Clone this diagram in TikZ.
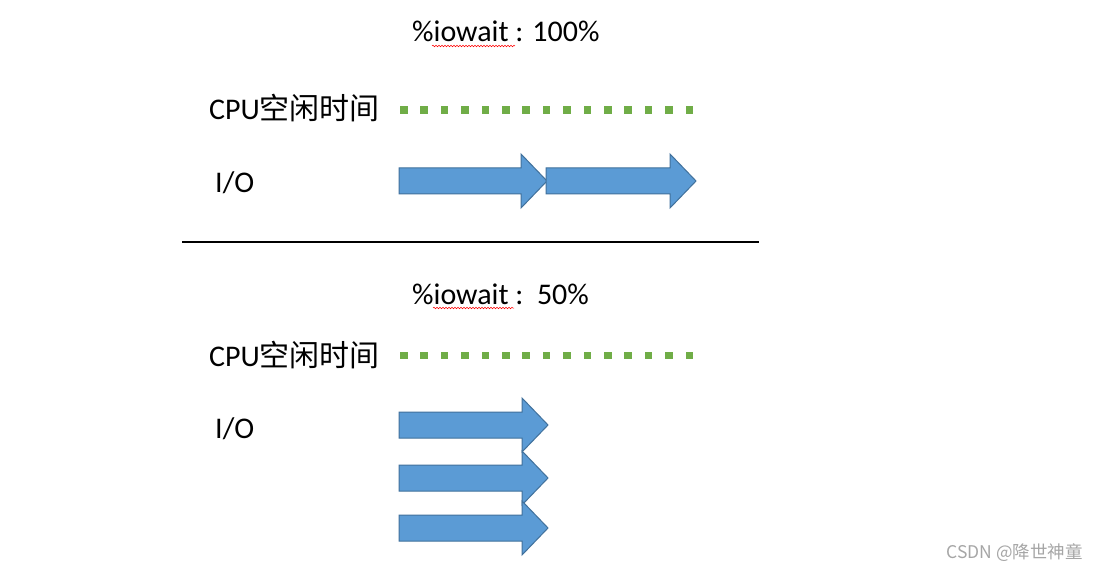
\documentclass[tikz,border=0pt]{standalone}
\usepackage{fontspec}
\setmainfont{Carlito}
\newfontfamily\cjk{Noto Sans CJK SC}
\usetikzlibrary{decorations.pathmorphing}

\definecolor{ioblue}{HTML}{5B9BD5}
\definecolor{ioedge}{HTML}{41719C}
\definecolor{idlegreen}{HTML}{70AD47}

\tikzset{
  label/.style={inner sep=0pt, anchor=base west, font=\fontsize{30}{32}\selectfont},
  ioarrow/.style={fill=ioblue, draw=ioedge, line width=1pt},
  idledot/.style={fill=idlegreen},
  spell/.style={red, line width=0.5pt, decorate, decoration={snake, amplitude=0.8pt, segment length=3pt}}
}

% arrow with tail at (#1,#2), length #3
\newcommand{\ioarrow}[3]{
  \filldraw[ioarrow] (#1,#2-13) -- (#1+#3-26,#2-13) -- (#1+#3-26,#2-27) -- (#1+#3,#2)
    -- (#1+#3-26,#2+27) -- (#1+#3-26,#2+13) -- (#1,#2+13) -- cycle;
}

\begin{document}
\begin{tikzpicture}[x=1pt,y=-1pt]
  \useasboundingbox[fill=white] (0,0) rectangle (1098,572);

  % 100% case
  \node[label] (t1) at (412,42) {\%iowait : 100\%};
  \draw[spell] (432,46) -- (515,46);

  \node[label] (cpu1) at (209,120) {CPU{\cjk 空闲时间}};
  \foreach \i in {0,...,14}
    \fill[idledot] (400+\i*20.4,106.5) rectangle ++(7.5,7.5);

  \node[label] (io1) at (215,193) {I/O};
  \ioarrow{399}{181}{148}
  \ioarrow{546}{181}{150}

  % separator
  \coordinate (sepl) at (182,242);
  \coordinate (sepr) at (759,242);
  \draw[line width=2.2pt] (sepl) -- (sepr);

  % 50% case
  \node[label] (t2) at (412,305) {\%iowait :\ \ 50\%};
  \draw[spell] (433,308) -- (514,308);

  \node[label] (cpu2) at (209,366) {CPU{\cjk 空闲时间}};
  \foreach \i in {0,...,14}
    \fill[idledot] (400+\i*20.4,351.5) rectangle ++(7.5,7.5);

  \node[label] (io2) at (215,438) {I/O};
  \ioarrow{399}{425}{149}
  \ioarrow{399}{478}{149}
  \ioarrow{399}{528}{149}

  % watermark
  \node[inner sep=0pt, anchor=east, text=gray!70, font=\cjk\fontsize{17.5}{18}\selectfont] (mark) at (1083,553) {CSDN @降世神童};
\end{tikzpicture}
\end{document}
